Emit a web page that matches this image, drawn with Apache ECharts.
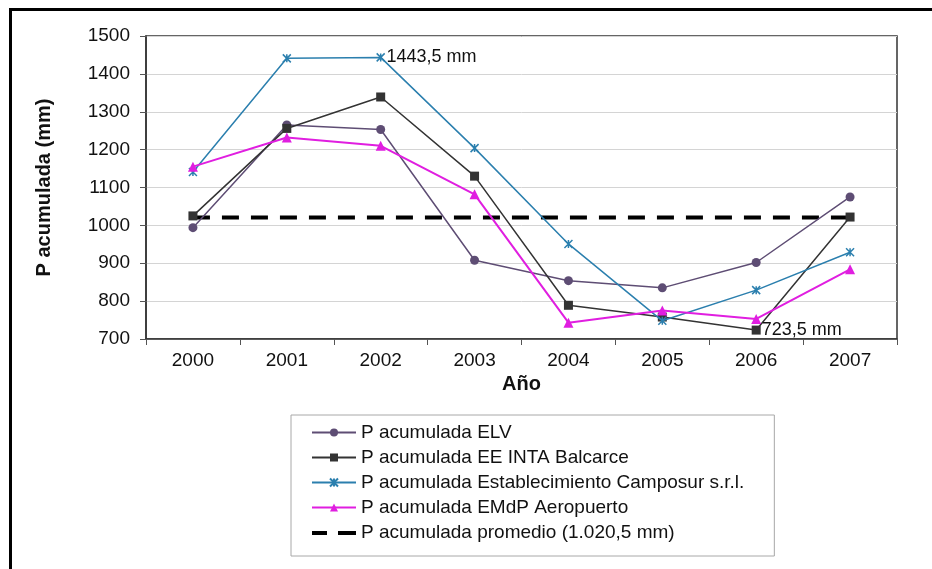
<!DOCTYPE html>
<html>
<head>
<meta charset="utf-8">
<script src="https://cdn.jsdelivr.net/npm/echarts@6/dist/echarts.min.js"></script>
<style>html,body{margin:0;padding:0;background:#fff;}#c{width:932px;height:569px;}</style>
</head>
<body>
<div id="c"></div>
<script>
var years = ['2000','2001','2002','2003','2004','2005','2006','2007'];
var elv = [994, 1265, 1253, 908, 854, 835, 902, 1075];
var inta = [1025, 1256, 1339, 1130, 789, 758, 723.5, 1022];
var camposur = [1141, 1441, 1443.5, 1204, 951, 748, 829, 929];
var emdp = [1155, 1232, 1210, 1082, 743, 775, 753, 884];
var promedio = [1020.5, 1020.5, 1020.5, 1020.5, 1020.5, 1020.5, 1020.5, 1020.5];
var yTicks = [700, 800, 900, 1000, 1100, 1200, 1300, 1400, 1500];
var names = ['P acumulada ELV', 'P acumulada EE INTA Balcarce', 'P acumulada Establecimiento Camposur s.r.l.', 'P acumulada EMdP Aeropuerto', 'P acumulada promedio (1.020,5 mm)'];
var notes = {camposur: {idx: 2, text: '1443,5 mm'}, inta: {idx: 6, text: '723,5 mm'}};

var FONT = '"Liberation Sans", Arial, sans-serif';
function withNote(arr, note) {
  return arr.map(function (v, i) {
    if (note && i === note.idx) {
      return {value: v, label: {show: true, position: 'right', distance: 1, formatter: note.text,
        color: '#111', fontSize: 18, fontFamily: FONT}};
    }
    return v;
  });
}
var xSym = 'path://M0,0L10,10M10,0L0,10M5,0L5,10';
var dashIcon = 'path://M0,0L0,0M44,10L44,10M0,3.5h15v4h-15zM26,3.5h18v4h-18z';

var chart = echarts.init(document.getElementById('c'));
chart.setOption({
  animation: false,
  backgroundColor: '#fff',
  graphic: [
    {type: 'line', shape: {x1: 10, y1: 9.5, x2: 932, y2: 9.5}, style: {stroke: '#000', lineWidth: 3}},
    {type: 'line', shape: {x1: 10.5, y1: 8, x2: 10.5, y2: 569}, style: {stroke: '#000', lineWidth: 3}}
  ],
  grid: {left: 146, right: 35, top: 36, bottom: 230, show: true, borderColor: '#333', borderWidth: 1.5, backgroundColor: 'transparent'},
  legend: {
    orient: 'vertical', left: 291, top: 415,
    borderColor: '#a8a8a8', borderWidth: 1,
    padding: [8, 30, 14, 20],
    itemWidth: 44, itemHeight: 10, itemGap: 6,
    textStyle: {fontSize: 19, fontFamily: FONT, color: '#111'},
    data: [names[0], names[1], names[2], names[3], {name: names[4], icon: dashIcon}]
  },
  xAxis: {
    type: 'category', data: years, boundaryGap: true,
    name: 'Año', nameLocation: 'middle', nameGap: 33,
    nameTextStyle: {fontSize: 20, fontWeight: 'bold', fontFamily: FONT, color: '#111'},
    axisLine: {lineStyle: {color: '#333', width: 1.5}},
    axisTick: {show: true, length: 6, lineStyle: {color: '#555'}},
    axisLabel: {fontSize: 19, fontFamily: FONT, color: '#111', margin: 12},
    splitLine: {show: false}
  },
  yAxis: {
    type: 'value', min: yTicks[0], max: yTicks[yTicks.length - 1], interval: 100,
    name: 'P acumulada (mm)', nameLocation: 'middle', nameGap: 92, nameRotate: 90,
    nameTextStyle: {fontSize: 20, fontWeight: 'bold', fontFamily: FONT, color: '#111'},
    axisLine: {show: true, lineStyle: {color: '#333', width: 1.5}},
    axisTick: {show: true, length: 6, lineStyle: {color: '#555'}},
    axisLabel: {fontSize: 19, fontFamily: FONT, color: '#111', margin: 16,
      formatter: function (v) { return String(v); }},
    splitLine: {show: true, lineStyle: {color: '#d4d4d4', width: 1}}
  },
  series: [
    {name: names[0], type: 'line', data: withNote(elv), symbol: 'circle', symbolSize: 9,
      lineStyle: {color: '#5e4d74', width: 1.5}, itemStyle: {color: '#5e4d74'}, z: 3},
    {name: names[1], type: 'line', data: withNote(inta, notes.inta), symbol: 'rect', symbolSize: 9,
      lineStyle: {color: '#333333', width: 1.5}, itemStyle: {color: '#333333'}, z: 4},
    {name: names[2], type: 'line', data: withNote(camposur, notes.camposur), symbol: xSym, symbolSize: 8,
      lineStyle: {color: '#2b7fae', width: 1.5}, itemStyle: {color: '#2b7fae', borderColor: '#2b7fae', borderWidth: 1.5}, z: 5},
    {name: names[3], type: 'line', data: withNote(emdp), symbol: 'triangle', symbolSize: 10,
      lineStyle: {color: '#e01ee0', width: 2}, itemStyle: {color: '#e01ee0'}, z: 6},
    {name: names[4], type: 'line', data: promedio, symbol: 'none',
      lineStyle: {color: '#000', width: 4, type: [17, 12]}, itemStyle: {color: '#000'}, z: 2}
  ]
});
</script>
</body>
</html>
